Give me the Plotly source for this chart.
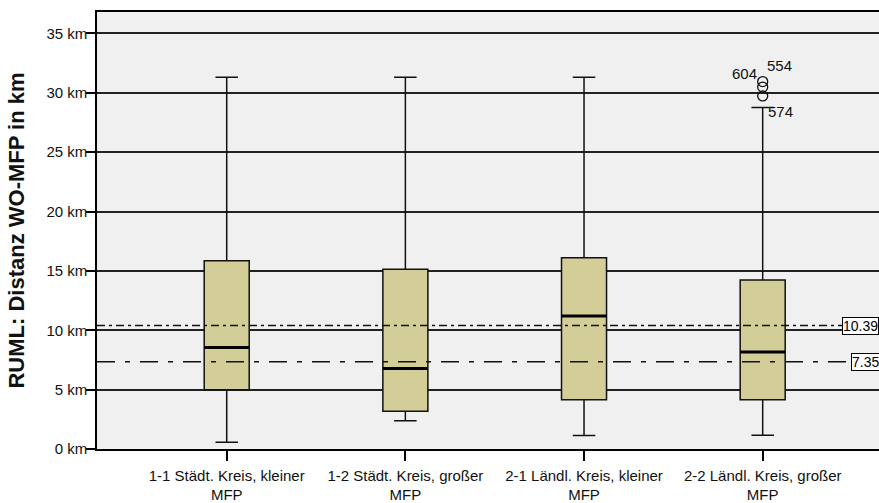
import plotly.graph_objects as go

# Distance groups (district type x MFP size)
categories = [
    "1-1 Städt. Kreis, kleiner<br>MFP",
    "1-2 Städt. Kreis, großer<br>MFP",
    "2-1 Ländl. Kreis, kleiner<br>MFP",
    "2-2 Ländl. Kreis, großer<br>MFP",
]

# Box statistics in km
lower_whisker = [0.57, 2.37, 1.13, 1.16]
q1 = [4.99, 3.18, 4.15, 4.15]
medians = [8.54, 6.77, 11.21, 8.17]
q3 = [15.85, 15.14, 16.11, 14.23]
upper_whisker = [31.3, 31.3, 31.3, 28.75]

# Outliers (group 2-2) with case ids
outlier_values = [30.94, 30.48, 29.73]
outlier_ids = ["554", "604", "574"]
outlier_group = 3

# Reference lines
ref_values = [10.39, 7.35]

y_ticks = [0, 5, 10, 15, 20, 25, 30, 35]
y_tick_text = [f"{v} km" for v in y_ticks]

FONT = "Liberation Sans, Arial, sans-serif"
BOX_FILL = "#d3ce98"
BOX_WIDTH = 0.252

fig = go.Figure()

fig.add_trace(go.Box(
    x=categories,
    q1=q1,
    median=medians,
    q3=q3,
    lowerfence=lower_whisker,
    upperfence=upper_whisker,
    width=BOX_WIDTH,
    whiskerwidth=0.5,
    fillcolor=BOX_FILL,
    line=dict(color="#111111", width=1.5),
    boxpoints=False,
    hoverinfo="skip",
    showlegend=False,
))

fig.add_trace(go.Scatter(
    x=[categories[outlier_group]] * len(outlier_values),
    y=outlier_values,
    mode="markers",
    marker=dict(symbol="circle-open", size=10, color="#111111",
                line=dict(width=1.3, color="#111111")),
    showlegend=False,
    hoverinfo="skip",
))

shapes = []
# Thick median bars
for i, m in enumerate(medians):
    shapes.append(dict(
        type="line", xref="x", yref="y",
        x0=i - BOX_WIDTH / 2, x1=i + BOX_WIDTH / 2, y0=m, y1=m,
        line=dict(color="black", width=3), layer="above",
    ))

# Reference lines with boxed value labels at the right
ref_dash = ["8px,4px,3px,4px", "18px,10px,5px,10px"]
ref_end = [0.9527, 0.9642]
annotations = []
for v, dash, xe in zip(ref_values, ref_dash, ref_end):
    shapes.append(dict(
        type="line", xref="paper", yref="y",
        x0=0, x1=xe, y0=v, y1=v,
        line=dict(color="#111111", width=1.5, dash=dash), layer="above",
    ))
    annotations.append(dict(
        xref="paper", yref="y", x=xe, y=v, xanchor="left", yanchor="middle",
        text=f"{v:.2f}", showarrow=False,
        font=dict(family=FONT, size=14, color="black"),
        bgcolor="white", bordercolor="black", borderwidth=1, borderpad=0,
    ))

# Outlier case labels
label_offsets = [(17, 16), (-18, 14), (18, -16)]
for val, cid, (dx, dy) in zip(outlier_values, outlier_ids, label_offsets):
    annotations.append(dict(
        x=categories[outlier_group], y=val, xref="x", yref="y",
        text=cid, showarrow=False, xshift=dx, yshift=dy,
        font=dict(family=FONT, size=15, color="#111111"),
    ))

fig.update_layout(
    width=879, height=503,
    margin=dict(l=97, r=0, t=12, b=36),
    paper_bgcolor="white",
    plot_bgcolor="#f0f0f0",
    font=dict(family=FONT, size=15, color="#111111"),
    shapes=shapes,
    annotations=annotations,
    showlegend=False,
)

fig.update_xaxes(
    type="category",
    range=[-0.726, 3.651],
    showline=True, mirror=True, linecolor="black", linewidth=1.5,
    ticks="outside", ticklen=10, tickcolor="black", tickwidth=1.5,
    ticklabelstandoff=2,
    showgrid=False,
    tickfont=dict(family=FONT, size=15, color="#111111"),
)

fig.update_yaxes(
    range=[0, 36.8],
    tickmode="array",
    tickvals=y_ticks,
    ticktext=y_tick_text,
    showline=True, mirror=False, linecolor="black", linewidth=1.5,
    ticks="outside", ticklen=9, tickcolor="black", tickwidth=1.5,
    ticklabelstandoff=-4,
    showgrid=True, gridcolor="#222222", gridwidth=1.5,
    zeroline=False,
    tickfont=dict(family=FONT, size=15, color="#111111"),
    title=dict(text="<b>RUML: Distanz WO-MFP in km</b>",
               font=dict(family=FONT, size=22, color="#111111"),
               standoff=16),
)

fig.write_html("out.html")
